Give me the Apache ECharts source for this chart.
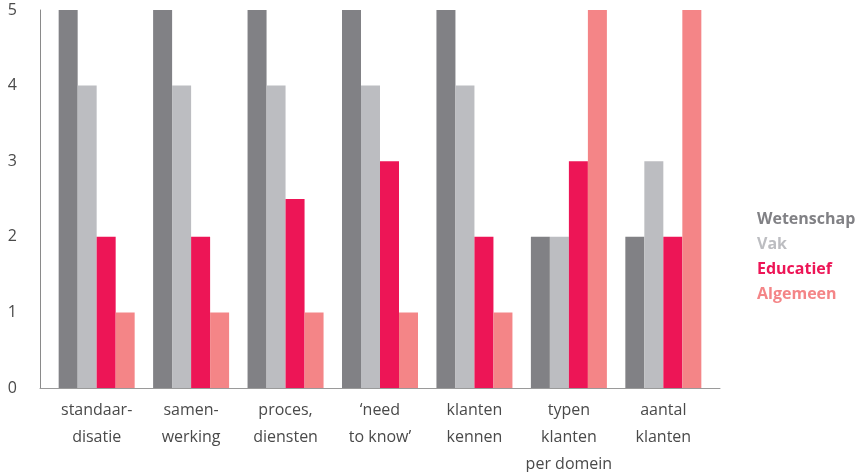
<!DOCTYPE html>
<html>
<head>
<meta charset="utf-8">
<script src="https://cdn.jsdelivr.net/npm/echarts@6/dist/echarts.min.js"></script>
<style>html,body{margin:0;padding:0;background:#fff;}#c{width:862px;height:472px;}</style>
</head>
<body>
<div id="c"></div>
<script>
const categories = ['standaar-\ndisatie', 'samen-\nwerking', 'proces,\ndiensten', '\u2018need\nto know\u2019', 'klanten\nkennen', 'typen\nklanten\nper domein', 'aantal\nklanten'];
const seriesNames = ['Wetenschap', 'Vak', 'Educatief', 'Algemeen'];
const wetenschap = [5, 5, 5, 5, 5, 2, 2];
const vak = [4, 4, 4, 4, 4, 2, 3];
const educatief = [2, 2, 2.5, 3, 2, 3, 2];
const algemeen = [1, 1, 1, 1, 1, 5, 5];
const yTicks = [0, 1, 2, 3, 4, 5];

const colors = ['#818185', '#bcbdc1', '#ed1556', '#f48587'];
const values = [wetenschap, vak, educatief, algemeen];
const font = '"Open Sans", "Noto Sans", sans-serif';

const chart = echarts.init(document.getElementById('c'), null, {renderer: 'canvas'});
chart.setOption({
  animation: false,
  grid: {left: 40, right: 142, top: 10, bottom: 84, containLabel: false, outerBoundsMode: 'none'},
  legend: {
    orient: 'vertical', left: 747, top: 204,
    itemWidth: 0, itemHeight: 0, itemGap: 5, icon: 'rect',
    selectedMode: false,
    data: seriesNames.map((n, i) => ({name: n, textStyle: {color: colors[i], fontWeight: 'bold', fontSize: 16, lineHeight: 20, fontFamily: font}}))
  },
  xAxis: {
    type: 'value', min: -0.6, max: 6.6,
    splitLine: {show: false},
    axisTick: {show: false},
    axisLine: {show: true, onZero: false, lineStyle: {color: '#9a9a9a', width: 1}},
    axisLabel: {
      customValues: categories.map((c, i) => i),
      formatter: v => categories[Math.round(v)] || '',
      color: '#4a4a4a', fontSize: 16, fontFamily: font, lineHeight: 27, margin: 9,
      showMinLabel: true, showMaxLabel: true
    }
  },
  yAxis: {
    type: 'value', min: 0, max: 5, interval: 1,
    splitLine: {show: false},
    axisTick: {show: false},
    axisLine: {show: true, onZero: false, lineStyle: {color: '#8a8a8a', width: 1}},
    axisLabel: {color: '#4a4a4a', fontSize: 16, fontFamily: font, margin: 23, customValues: yTicks}
  },
  series: seriesNames.map((n, i) => ({
    name: n, type: 'bar', barWidth: 19, barGap: '0%',
    itemStyle: {color: colors[i]},
    data: values[i].map((v, j) => [j, v])
  }))
});
</script>
</body>
</html>
